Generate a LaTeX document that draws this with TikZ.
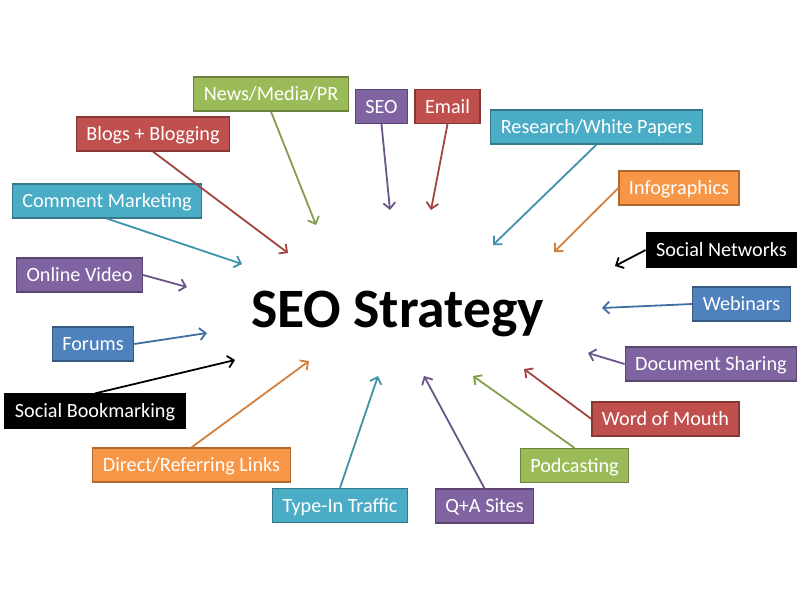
\documentclass[tikz,border=0pt]{standalone}
\usepackage{fontspec}
\setmainfont{Carlito}
\usetikzlibrary{arrows.meta,positioning}
\definecolor{purp}{HTML}{8064A2}
\definecolor{redd}{HTML}{C0504D}
\definecolor{grn}{HTML}{9BBB59}
\definecolor{aqua}{HTML}{4BACC6}
\definecolor{orng}{HTML}{F79646}
\definecolor{blu}{HTML}{4F81BD}
\definecolor{blk}{HTML}{000000}
\tikzset{
    tag/.style={draw=#1!70!black, fill=#1, line width=1.2pt, text=white,
        font=\fontsize{20.2}{23}\selectfont, inner xsep=10pt,
        minimum height=34pt, text height=13pt, text depth=0pt},
    link/.style={-{Straight Barb[length=6pt, width=12pt]}, line width=1.8pt, draw=#1!85!black},
    title/.style={font=\fontsize{55.6}{60}\selectfont\bfseries, anchor=base}
}

\begin{document}
\begin{tikzpicture}[x=1pt, y=-1pt]
    \useasboundingbox[fill=white] (0,0) rectangle (800,600);

    \node[title] (seostrat) at (397.5,327) {SEO Strategy};

    % boxes round the title
    \node[tag=grn] (news) at (271,94) {News/Media/PR};
    \node[tag=purp] (seo) at (381.5,106.5) {SEO};
    \node[tag=redd] (email) at (447.5,106.5) {Email};
    \node[tag=redd] (blogs) at (153,134) {Blogs + Blogging};
    \node[tag=aqua] (comment) at (107,201) {Comment Marketing};
    \node[tag=purp] (video) at (79.5,275) {Online Video};
    \node[tag=aqua] (research) at (596.5,127) {Research/White Papers};
    \node[tag=orng] (info) at (679,188) {Infographics};
    \node[tag=blk] (socnet) at (721.5,250) {Social Networks};
    \node[tag=blu] (webinars) at (741.5,304) {Webinars};
    \node[tag=purp] (docshare) at (711,364) {Document Sharing};
    \node[tag=redd] (word) at (665.5,419) {Word of Mouth};
    \node[tag=grn] (podcast) at (574.5,465.5) {Podcasting};
    \node[tag=purp] (qa) at (484.5,506) {Q+A Sites};
    \node[tag=aqua] (typein) at (340,505.5) {Type-In Traffic};
    \node[tag=orng] (direct) at (191.5,465) {Direct/Referring Links};
    \node[tag=blk] (socbook) at (95,411) {Social Bookmarking};
    \node[tag=blu] (forums) at (93,344) {Forums};

    % arrow tips
    \coordinate (t-news) at (316,225);
    \coordinate (t-seo) at (390,210);
    \coordinate (t-email) at (431,210);
    \coordinate (t-blogs) at (288,253);
    \coordinate (t-comment) at (242,264);
    \coordinate (t-video) at (187,287);
    \coordinate (t-research) at (493,245);
    \coordinate (t-info) at (554,252);
    \coordinate (t-socnet) at (615,266);
    \coordinate (t-webinars) at (602,308);
    \coordinate (t-docshare) at (588,353);
    \coordinate (t-word) at (524,369);
    \coordinate (t-podcast) at (473,376);
    \coordinate (t-qa) at (424,376);
    \coordinate (t-typein) at (378,376);
    \coordinate (t-direct) at (309,361);
    \coordinate (t-socbook) at (235,360);
    \coordinate (t-forums) at (207,333);

    \draw[link=grn] (news.south) -- (t-news);
    \draw[link=purp] (seo.south) -- (t-seo);
    \draw[link=redd] (email.south) -- (t-email);
    \draw[link=redd] (blogs.south) -- (t-blogs);
    \draw[link=aqua] (comment.south) -- (t-comment);
    \draw[link=purp] (video.east) -- (t-video);
    \draw[link=aqua] (research.south) -- (t-research);
    \draw[link=orng] (info.west) -- (t-info);
    \draw[link=blk] (socnet.west) -- (t-socnet);
    \draw[link=blu] (webinars.west) -- (t-webinars);
    \draw[link=purp] (docshare.west) -- (t-docshare);
    \draw[link=redd] (word.west) -- (t-word);
    \draw[link=grn] (podcast.north) -- (t-podcast);
    \draw[link=purp] (qa.north) -- (t-qa);
    \draw[link=aqua] (typein.north) -- (t-typein);
    \draw[link=orng] (direct.north) -- (t-direct);
    \draw[link=blk] (socbook.north) -- (t-socbook);
    \draw[link=blu] (forums.east) -- (t-forums);
\end{tikzpicture}
\end{document}
